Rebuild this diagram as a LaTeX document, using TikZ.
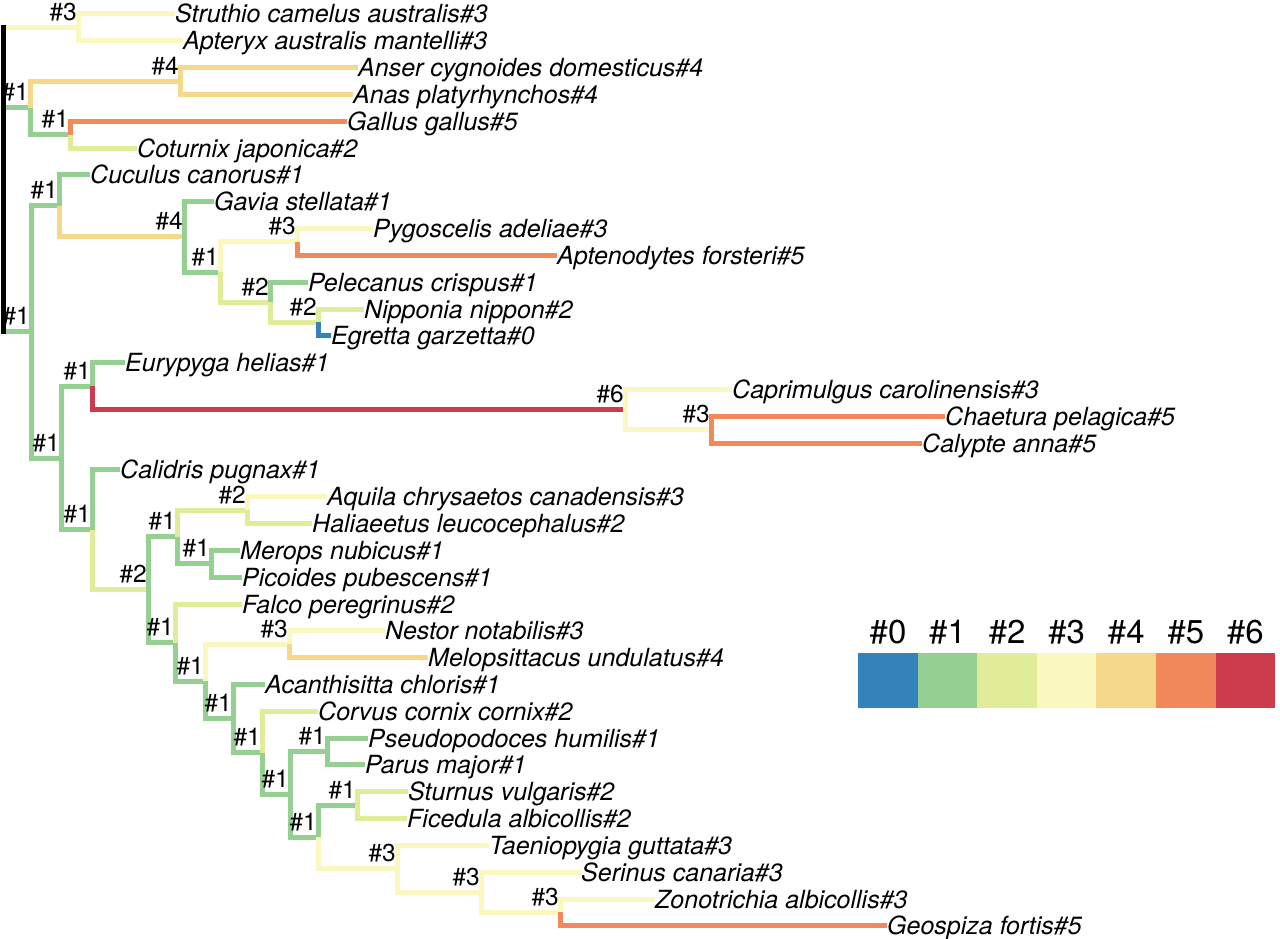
\documentclass[tikz,border=0pt]{standalone}
\usepackage{fontspec}
\setmainfont{TeX Gyre Heros}
\usetikzlibrary{calc}
\definecolor{c0}{RGB}{52,130,186}
\definecolor{c1}{RGB}{150,207,146}
\definecolor{c2}{RGB}{224,236,152}
\definecolor{c3}{RGB}{250,248,190}
\definecolor{c4}{RGB}{246,216,138}
\definecolor{c5}{RGB}{241,137,90}
\definecolor{c6}{RGB}{204,60,76}
\begin{document}
\begin{tikzpicture}[x=1pt,y=-1pt,
  br/.style={line width=5pt,line join=miter},
  leaf/.style={anchor=west,inner sep=0pt,text height=18pt,text depth=0pt,font=\fontsize{25}{27}\selectfont\itshape},
  lab/.style={anchor=base east,inner sep=0pt,xshift=-1pt,yshift=7pt,font=\fontsize{24.5}{26}\selectfont},
  legbox/.style={rectangle,inner sep=0pt,minimum width=59.6pt,minimum height=55pt,anchor=north west},
  leglab/.style={anchor=base,inner sep=0pt,font=\fontsize{33}{35}\selectfont}]
\useasboundingbox (0,0) rectangle (1280,939);
\fill[white] (0,0) rectangle (1280,939);

% internal nodes
\coordinate (root) at (3,179.7);
\coordinate (nSA) at (78,27.41);
\coordinate (nGal) at (30,107.87);
\coordinate (nAA) at (180,81.05);
\coordinate (nGC) at (70,134.69);
\coordinate (n31) at (31,331.98);
\coordinate (nA) at (59,205.93);
\coordinate (nB) at (184,236.94);
\coordinate (nC) at (220,272.14);
\coordinate (nD) at (297,241.97);
\coordinate (nE) at (270,302.32);
\coordinate (nF) at (318,322.43);
\coordinate (nG) at (61,458.02);
\coordinate (nH) at (92,386.13);
\coordinate (nI) at (625,409.6);
\coordinate (nJ) at (711,429.71);
\coordinate (nK) at (92,529.91);
\coordinate (nL) at (148,589.88);
\coordinate (nY) at (177,536.99);
\coordinate (nZ) at (247,510.17);
\coordinate (nMP) at (211,563.81);
\coordinate (nM) at (175,642.76);
\coordinate (nN) at (205,681.47);
\coordinate (nO) at (289,644.27);
\coordinate (nP) at (233,718.66);
\coordinate (nQ) at (262,752.81);
\coordinate (nR) at (290,794.3);
\coordinate (nS) at (327,751.55);
\coordinate (nT) at (318,837.04);
\coordinate (nU) at (357,805.19);
\coordinate (nV) at (397,868.89);
\coordinate (nW) at (481,892.36);
\coordinate (nX) at (560,912.47);

% leaves
\node[leaf] (struthio) at (175,14.00) {Struthio camelus australis\#3};
\node[leaf] (apteryx) at (183,40.82) {Apteryx australis mantelli\#3};
\node[leaf] (anser) at (358,67.64) {Anser cygnoides domesticus\#4};
\node[leaf] (anas) at (353,94.46) {Anas platyrhynchos\#4};
\node[leaf] (gallus) at (347,121.28) {Gallus gallus\#5};
\node[leaf] (coturnix) at (137,148.10) {Coturnix japonica\#2};
\node[leaf] (cuculus) at (90,174.92) {Cuculus canorus\#1};
\node[leaf] (gavia) at (214,201.74) {Gavia stellata\#1};
\node[leaf] (pygoscelis) at (373,228.56) {Pygoscelis adeliae\#3};
\node[leaf] (aptenodytes) at (557,255.38) {Aptenodytes forsteri\#5};
\node[leaf] (pelecanus) at (308,282.20) {Pelecanus crispus\#1};
\node[leaf] (nipponia) at (364,309.02) {Nipponia nippon\#2};
\node[leaf] (egretta) at (331,335.84) {Egretta garzetta\#0};
\node[leaf] (eurypyga) at (125,362.66) {Eurypyga helias\#1};
\node[leaf] (caprimulgus) at (732,389.48) {Caprimulgus carolinensis\#3};
\node[leaf] (chaetura) at (945,416.30) {Chaetura pelagica\#5};
\node[leaf] (calypte) at (922,443.12) {Calypte anna\#5};
\node[leaf] (calidris) at (120,469.94) {Calidris pugnax\#1};
\node[leaf] (aquila) at (327,496.76) {Aquila chrysaetos canadensis\#3};
\node[leaf] (haliaeetus) at (312,523.58) {Haliaeetus leucocephalus\#2};
\node[leaf] (merops) at (240,550.40) {Merops nubicus\#1};
\node[leaf] (picoides) at (242,577.22) {Picoides pubescens\#1};
\node[leaf] (falco) at (242,604.04) {Falco peregrinus\#2};
\node[leaf] (nestor) at (385,630.86) {Nestor notabilis\#3};
\node[leaf] (melopsittacus) at (428,657.68) {Melopsittacus undulatus\#4};
\node[leaf] (acanthisitta) at (265,684.50) {Acanthisitta chloris\#1};
\node[leaf] (corvus) at (318,711.32) {Corvus cornix cornix\#2};
\node[leaf] (pseudopodoces) at (368,738.14) {Pseudopodoces humilis\#1};
\node[leaf] (parus) at (365,764.96) {Parus major\#1};
\node[leaf] (sturnus) at (408,791.78) {Sturnus vulgaris\#2};
\node[leaf] (ficedula) at (407,818.60) {Ficedula albicollis\#2};
\node[leaf] (taeniopygia) at (489,845.42) {Taeniopygia guttata\#3};
\node[leaf] (serinus) at (581,872.24) {Serinus canaria\#3};
\node[leaf] (zonotrichia) at (655,899.06) {Zonotrichia albicollis\#3};
\node[leaf] (geospiza) at (887,925.88) {Geospiza fortis\#5};

% branches
\draw[br,c3] (root) |- (nSA);
\draw[br,c1] (root) |- (nGal);
\draw[br,c1] (root) |- (n31);
\draw[br,c3] (nSA) |- (struthio.west);
\draw[br,c3] (nSA) |- (apteryx.west);
\draw[br,c4] (nGal) |- (nAA);
\draw[br,c1] (nGal) |- (nGC);
\draw[br,c4] (nAA) |- (anser.west);
\draw[br,c4] (nAA) |- (anas.west);
\draw[br,c5] (nGC) |- (gallus.west);
\draw[br,c2] (nGC) |- (coturnix.west);
\draw[br,c1] (n31) |- (nA);
\draw[br,c1] (n31) |- (nG);
\draw[br,c1] (nA) |- (cuculus.west);
\draw[br,c4] (nA) |- (nB);
\draw[br,c1] (nB) |- (gavia.west);
\draw[br,c1] (nB) |- (nC);
\draw[br,c3] (nC) |- (nD);
\draw[br,c2] (nC) |- (nE);
\draw[br,c3] (nD) |- (pygoscelis.west);
\draw[br,c5] (nD) |- (aptenodytes.west);
\draw[br,c1] (nE) |- (pelecanus.west);
\draw[br,c2] (nE) |- (nF);
\draw[br,c2] (nF) |- (nipponia.west);
\draw[br,c0] (nF) |- (egretta.west);
\draw[br,c1] (nG) |- (nH);
\draw[br,c1] (nG) |- (nK);
\draw[br,c1] (nH) |- (eurypyga.west);
\draw[br,c6] (nH) |- (nI);
\draw[br,c3] (nI) |- (caprimulgus.west);
\draw[br,c3] (nI) |- (nJ);
\draw[br,c5] (nJ) |- (chaetura.west);
\draw[br,c5] (nJ) |- (calypte.west);
\draw[br,c1] (nK) |- (calidris.west);
\draw[br,c2] (nK) |- (nL);
\draw[br,c1] (nL) |- (nY);
\draw[br,c1] (nL) |- (nM);
\draw[br,c2] (nY) |- (nZ);
\draw[br,c1] (nY) |- (nMP);
\draw[br,c3] (nZ) |- (aquila.west);
\draw[br,c2] (nZ) |- (haliaeetus.west);
\draw[br,c1] (nMP) |- (merops.west);
\draw[br,c1] (nMP) |- (picoides.west);
\draw[br,c2] (nM) |- (falco.west);
\draw[br,c1] (nM) |- (nN);
\draw[br,c3] (nN) |- (nO);
\draw[br,c1] (nN) |- (nP);
\draw[br,c3] (nO) |- (nestor.west);
\draw[br,c4] (nO) |- (melopsittacus.west);
\draw[br,c1] (nP) |- (acanthisitta.west);
\draw[br,c1] (nP) |- (nQ);
\draw[br,c2] (nQ) |- (corvus.west);
\draw[br,c1] (nQ) |- (nR);
\draw[br,c1] (nR) |- (nS);
\draw[br,c1] (nR) |- (nT);
\draw[br,c1] (nS) |- (pseudopodoces.west);
\draw[br,c1] (nS) |- (parus.west);
\draw[br,c1] (nT) |- (nU);
\draw[br,c3] (nT) |- (nV);
\draw[br,c2] (nU) |- (sturnus.west);
\draw[br,c2] (nU) |- (ficedula.west);
\draw[br,c3] (nV) |- (taeniopygia.west);
\draw[br,c3] (nV) |- (nW);
\draw[br,c3] (nW) |- (serinus.west);
\draw[br,c3] (nW) |- (nX);
\draw[br,c3] (nX) |- (zonotrichia.west);
\draw[br,c5] (nX) |- (geospiza.west);

% root stem
\draw[line width=5pt,line cap=rect,black] (root |- nSA) -- (root |- n31);

% branch labels
\node[lab] (lSA) at (nSA) {\#3};
\node[lab] (lGal) at (nGal) {\#1};
\node[lab] (lAA) at (nAA) {\#4};
\node[lab] (lGC) at (nGC) {\#1};
\node[lab] (l31) at (n31) {\#1};
\node[lab] (lA) at (nA) {\#1};
\node[lab] (lB) at (nB) {\#4};
\node[lab] (lC) at (nC) {\#1};
\node[lab] (lD) at (nD) {\#3};
\node[lab] (lE) at (nE) {\#2};
\node[lab] (lF) at (nF) {\#2};
\node[lab] (lG) at (nG) {\#1};
\node[lab] (lH) at (nH) {\#1};
\node[lab] (lI) at (nI) {\#6};
\node[lab] (lJ) at (nJ) {\#3};
\node[lab] (lK) at (nK) {\#1};
\node[lab] (lL) at (nL) {\#2};
\node[lab] (lY) at (nY) {\#1};
\node[lab] (lZ) at (nZ) {\#2};
\node[lab] (lMP) at (nMP) {\#1};
\node[lab] (lM) at (nM) {\#1};
\node[lab] (lN) at (nN) {\#1};
\node[lab] (lO) at (nO) {\#3};
\node[lab] (lP) at (nP) {\#1};
\node[lab] (lQ) at (nQ) {\#1};
\node[lab] (lR) at (nR) {\#1};
\node[lab] (lS) at (nS) {\#1};
\node[lab] (lT) at (nT) {\#1};
\node[lab] (lU) at (nU) {\#1};
\node[lab] (lV) at (nV) {\#3};
\node[lab] (lW) at (nW) {\#3};
\node[lab] (lX) at (nX) {\#3};

% legend
\foreach \i in {0,...,6}{
  \pgfmathsetmacro{\bx}{858+59.57*\i}
  \node[legbox,fill=c\i] (box\i) at (\bx,653) {};
  \node[leglab] (leg\i) at ($(box\i.north)+(0,-10)$) {\#\i};
}
\end{tikzpicture}
\end{document}
